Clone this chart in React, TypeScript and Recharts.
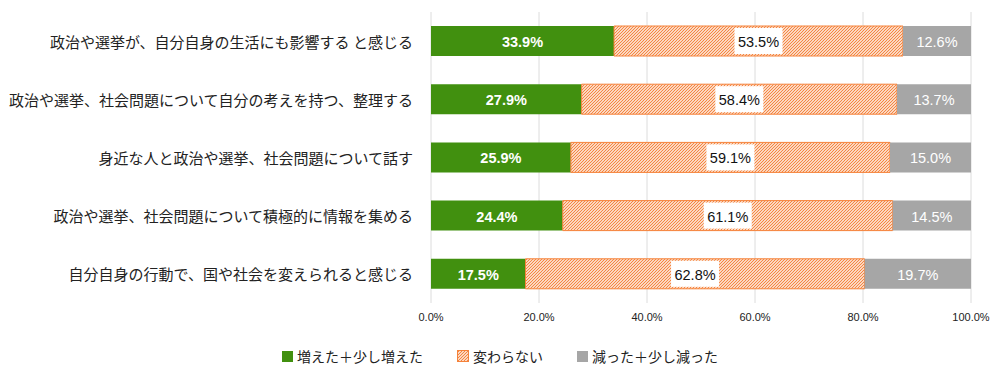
import React from 'react';
import { BarChart, Bar, XAxis, YAxis, CartesianGrid, LabelList, Legend } from 'recharts';

const categories = [
  '政治や選挙が、自分自身の生活にも影響する と感じる',
  '政治や選挙、社会問題について自分の考えを持つ、整理する',
  '身近な人と政治や選挙、社会問題について話す',
  '政治や選挙、社会問題について積極的に情報を集める',
  '自分自身の行動で、国や社会を変えられると感じる',
];
const increased = [33.9, 27.9, 25.9, 24.4, 17.5];
const unchanged = [53.5, 58.4, 59.1, 61.1, 62.8];
const decreased = [12.6, 13.7, 15.0, 14.5, 19.7];
const xTicks = [0, 20, 40, 60, 80, 100];
const seriesNames = ['増えた＋少し増えた', '変わらない', '減った＋少し減った'];

const GREEN = '#41900f';
const ORANGE = '#f5823a';
const GRAY = '#a6a6a6';
const FONT = '"Noto Sans CJK JP", "Noto Sans", sans-serif';
const NUM_FONT = '"Liberation Sans", Arial, sans-serif';

const data = categories.map((name, i) => ({
  name,
  increased: increased[i],
  unchanged: unchanged[i],
  decreased: decreased[i],
}));

const fmt = (v: number) => `${v.toFixed(1)}%`;

const CategoryTick = (props: any) => {
  const { y, payload } = props;
  return (
    <text x={413} y={y} textAnchor="end" dominantBaseline="central" fontSize={15} fill="#222" fontFamily={FONT}>
      {payload.value}
    </text>
  );
};

const plainLabel = (bold: boolean) => (props: any) => {
  const { x, y, width, height, value } = props;
  return (
    <text
      x={x + width / 2}
      y={y + height / 2 + 1}
      textAnchor="middle"
      dominantBaseline="central"
      fontSize={14.5}
      fontWeight={bold ? 'bold' : 'normal'}
      fill="#fff"
      fontFamily={NUM_FONT}
    >
      {fmt(value)}
    </text>
  );
};

const boxedLabel = (props: any) => {
  const { x, y, width, height, value } = props;
  const cx = x + width / 2;
  const cy = y + height / 2;
  return (
    <g>
      <rect x={cx - 24} y={cy - 13} width={48} height={26} fill="#fff" />
      <text x={cx} y={cy + 1} textAnchor="middle" dominantBaseline="central" fontSize={14.5} fill="#111" fontFamily={NUM_FONT}>
        {fmt(value)}
      </text>
    </g>
  );
};

const LegendContent = () => {
  const swatch = (i: number) => {
    if (i === 1) {
      return (
        <svg width={12} height={12} style={{ marginRight: 4 }}>
          <rect x={0.5} y={0.5} width={11} height={11} fill="url(#hatch)" stroke={ORANGE} />
        </svg>
      );
    }
    return <span style={{ display: 'inline-block', width: 11, height: 11, background: i === 0 ? GREEN : GRAY, marginRight: 4 }} />;
  };
  return (
    <div style={{ display: 'flex', justifyContent: 'center', alignItems: 'center', gap: 34, fontFamily: FONT, fontSize: 14, color: '#222' }}>
      {seriesNames.map((n, i) => (
        <div key={n} style={{ display: 'flex', alignItems: 'center' }}>
          {swatch(i)}
          <span>{n}</span>
        </div>
      ))}
    </div>
  );
};

export default function App() {
  return (
    <div style={{ position: 'absolute', left: 0, top: 0, width: 1000, height: 382, background: '#fff' }}>
      <BarChart
        width={1000}
        height={382}
        data={data}
        layout="vertical"
        margin={{ top: 12, right: 29, bottom: 49, left: 0 }}
        barSize={30}
      >
        <defs>
          <pattern id="hatch" patternUnits="userSpaceOnUse" width={3} height={3}>
            <rect width={3} height={3} fill="#fff" />
            <path d="M-1,1 l2,-2 M0,3 l3,-3 M2,4 l2,-2" stroke={ORANGE} strokeWidth={1.2} />
          </pattern>
        </defs>
        <CartesianGrid horizontal={false} stroke="#dcdcdc" />
        <XAxis
          type="number"
          domain={[0, 100]}
          ticks={xTicks}
          tickFormatter={fmt}
          axisLine={false}
          tickLine={false}
          height={30}
          tick={{ fontSize: 11, fill: '#222', fontFamily: NUM_FONT }}
          tickMargin={4}
        />
        <YAxis type="category" dataKey="name" width={431} axisLine={false} tickLine={false} tick={<CategoryTick />} />
        <Legend
          layout="horizontal"
          verticalAlign="middle"
          align="center"
          content={<LegendContent />}
          wrapperStyle={{ top: 346, left: 0, width: 1000 }}
        />
        <Bar dataKey="increased" name={seriesNames[0]} stackId="a" fill={GREEN} isAnimationActive={false}>
          <LabelList dataKey="increased" content={plainLabel(true)} />
        </Bar>
        <Bar dataKey="unchanged" name={seriesNames[1]} stackId="a" fill="url(#hatch)" stroke={ORANGE} strokeWidth={1} isAnimationActive={false}>
          <LabelList dataKey="unchanged" content={boxedLabel} />
        </Bar>
        <Bar dataKey="decreased" name={seriesNames[2]} stackId="a" fill={GRAY} isAnimationActive={false}>
          <LabelList dataKey="decreased" content={plainLabel(false)} />
        </Bar>
      </BarChart>
    </div>
  );
}
